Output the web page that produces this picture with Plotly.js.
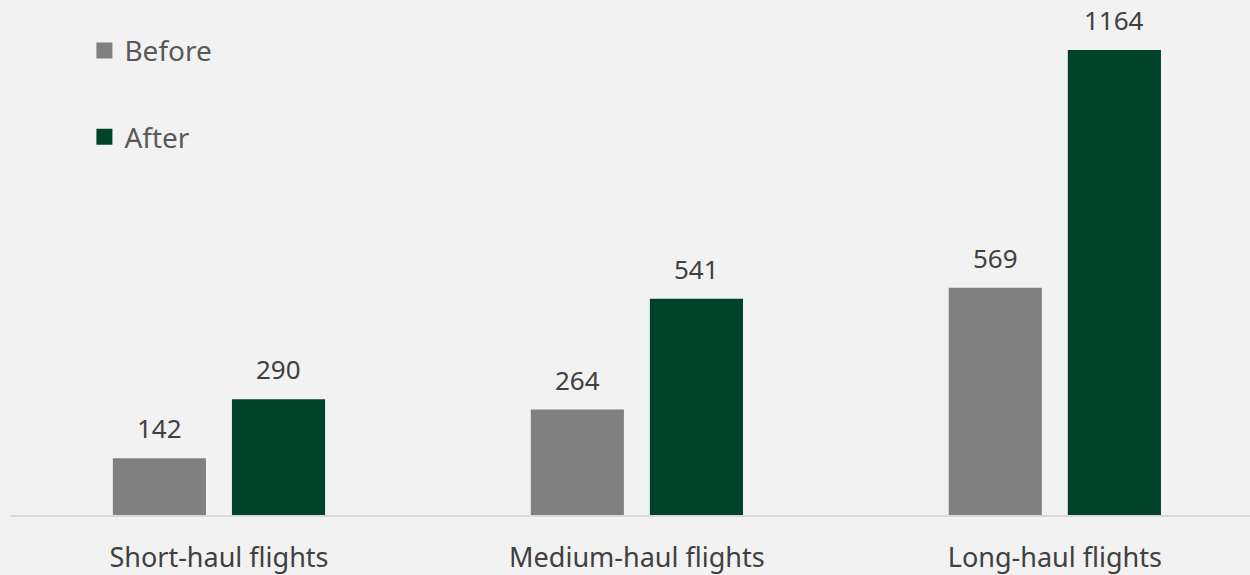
<!DOCTYPE html>
<html>
<head>
<meta charset="utf-8">
<script src="https://cdn.plot.ly/plotly-3.0.1.min.js"></script>
<style>html,body{margin:0;padding:0;background:#f2f2f2;}#chart{width:1250px;height:575px;}</style>
</head>
<body>
<div id="chart"></div>
<script>
const categories = ["Short-haul flights", "Medium-haul flights", "Long-haul flights"];
const seriesNames = ["Before", "After"];
const beforeValues = [142, 264, 569];
const afterValues = [290, 541, 1164];

const colors = ["#808080", "#00432A"];
const FONT = "Noto Sans, Open Sans, sans-serif";
const seriesValues = [beforeValues, afterValues];

const traces = seriesValues.map((vals, i) => ({
  type: "bar",
  name: seriesNames[i],
  x: categories,
  y: vals,
  marker: {color: colors[i], line: {width: 0}},
  showlegend: false,
  hoverinfo: "x+y+name"
}));
// legend entries with larger square swatches (no data drawn)
seriesNames.forEach((n, i) => {
  traces.push({
    type: "scatter", mode: "markers", name: n,
    x: [null], y: [null],
    marker: {symbol: "square", size: 20, color: colors[i]},
    legendgroup: "g" + i, showlegend: true
  });
});

const offsets = [-59.5, 59.5];
const annotations = [];
seriesValues.forEach((vals, i) => {
  vals.forEach((v, j) => {
    annotations.push({
      x: categories[j], y: v, xref: "x", yref: "y",
      text: String(v), showarrow: false,
      xshift: offsets[i], yshift: 10, yanchor: "bottom",
      font: {family: FONT, size: 26, color: "#404040"}
    });
  });
});

const layout = {
  width: 1250, height: 575,
  paper_bgcolor: "#f2f2f2", plot_bgcolor: "#f2f2f2",
  margin: {l: 10, r: 0, t: 0, b: 60},
  barmode: "group", bargap: 0.43, bargroupgap: 0.218,
  xaxis: {
    type: "category", range: [-0.5, 2.467],
    showline: true, linecolor: "#d9d9d9", linewidth: 2,
    showgrid: false, zeroline: false,
    ticks: "outside", ticklen: 18, tickcolor: "rgba(0,0,0,0)",
    tickfont: {family: FONT, size: 27, color: "#404040"}
  },
  yaxis: {range: [0, 1289], visible: false, showgrid: false, zeroline: false},
  showlegend: true,
  legend: {
    x: 0.06, y: 0.95, xanchor: "left", yanchor: "top",
    traceorder: "grouped", tracegroupgap: 47,
    itemsizing: "trace",
    bgcolor: "rgba(0,0,0,0)",
    font: {family: FONT, size: 28, color: "#595959"}
  },
  annotations: annotations
};

Plotly.newPlot("chart", traces, layout, {displayModeBar: false, staticPlot: true});
</script>
</body>
</html>
